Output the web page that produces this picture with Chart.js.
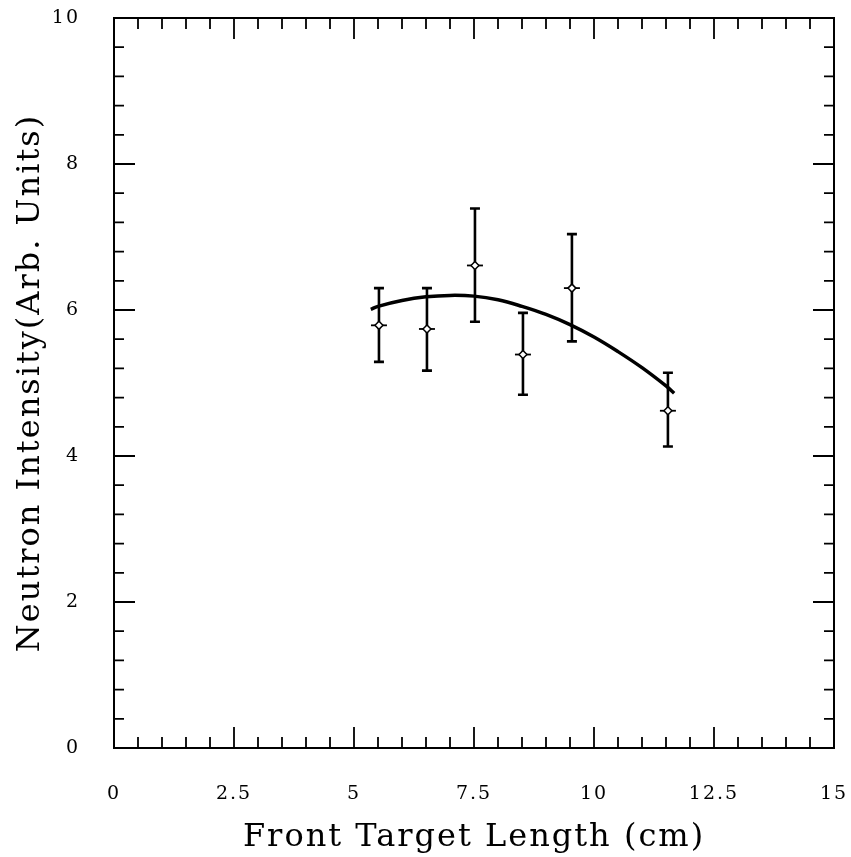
<!DOCTYPE html>
<html>
<head>
<meta charset="utf-8">
<script src="https://cdn.jsdelivr.net/npm/chart.js@4.4.1/dist/chart.umd.min.js"></script>
<style>
  html, body { margin: 0; padding: 0; background: #fff; }
  #wrap { width: 851px; height: 857px; }
</style>
</head>
<body>
<div id="wrap"><canvas id="neutronChart" width="851" height="857"></canvas></div>
<script>
// measured points with error bars
const targetLength = [5.52, 6.52, 7.52, 8.52, 9.54, 11.54];
const intensity = [5.79, 5.74, 6.61, 5.39, 6.30, 4.62];
const errLow = [5.29, 5.17, 5.84, 4.84, 5.57, 4.13];
const errHigh = [6.30, 6.30, 7.39, 5.96, 7.04, 5.14];

// fitted curve
const fitX = [5.35, 5.5, 6.0, 6.5, 7.0, 7.5, 8.0, 8.5, 9.0, 9.5, 10.0, 10.5, 11.0, 11.5, 11.67];
const fitY = [6.01, 6.05, 6.13, 6.18, 6.20, 6.19, 6.14, 6.05, 5.94, 5.80, 5.63, 5.43, 5.21, 4.96, 4.86];

const xTickLabels = ['0', '2.5', '5', '7.5', '10', '12.5', '15'];
const yTickLabels = ['0', '2', '4', '6', '8', '10'];

const serif = "'DejaVu Serif', 'Liberation Serif', serif";

// the original uses widely spaced lettering
const spacingPlugin = {
    id: 'spacing',
    beforeUpdate(chart) { chart.ctx.letterSpacing = '2px'; },
    beforeDraw(chart) { chart.ctx.letterSpacing = '2px'; }
};

// frame + inward ticks on all four sides, error bars
const framePlugin = {
    id: 'frame',
    afterDatasetsDraw(chart) {
        const ctx = chart.ctx;
        const a = chart.chartArea;
        const xs = chart.scales.x;
        const ys = chart.scales.y;
        ctx.save();
        ctx.strokeStyle = '#000';
        ctx.lineWidth = 2;
        ctx.strokeRect(a.left, a.top, a.right - a.left, a.bottom - a.top);

        ctx.lineWidth = 1.8;
        ctx.beginPath();
        xs.ticks.forEach(t => {
            const px = xs.getPixelForValue(t.value);
            if (px <= a.left + 1 || px >= a.right - 1) return;
            const major = Math.abs(t.value / 2.5 - Math.round(t.value / 2.5)) < 1e-6;
            const len = major ? 21 : 11;
            ctx.moveTo(px, a.bottom); ctx.lineTo(px, a.bottom - len);
            ctx.moveTo(px, a.top); ctx.lineTo(px, a.top + len);
        });
        ys.ticks.forEach(t => {
            const py = ys.getPixelForValue(t.value);
            if (py <= a.top + 1 || py >= a.bottom - 1) return;
            const major = Math.abs(t.value / 2 - Math.round(t.value / 2)) < 1e-6;
            const len = major ? 21 : 10;
            ctx.moveTo(a.left, py); ctx.lineTo(a.left + len, py);
            ctx.moveTo(a.right, py); ctx.lineTo(a.right - len, py);
        });
        ctx.stroke();

        // error bars and markers
        targetLength.forEach((x, i) => {
            const px = xs.getPixelForValue(x);
            const pyL = ys.getPixelForValue(errLow[i]);
            const pyH = ys.getPixelForValue(errHigh[i]);
            const py = ys.getPixelForValue(intensity[i]);
            ctx.lineWidth = 2.6;
            ctx.beginPath();
            ctx.moveTo(px, pyL); ctx.lineTo(px, pyH);
            ctx.moveTo(px - 5, pyL); ctx.lineTo(px + 5, pyL);
            ctx.moveTo(px - 5, pyH); ctx.lineTo(px + 5, pyH);
            ctx.stroke();
            ctx.lineWidth = 1.8;
            ctx.beginPath();
            ctx.moveTo(px - 8, py); ctx.lineTo(px + 8, py);
            ctx.stroke();
            ctx.beginPath();
            ctx.fillStyle = '#fff';
            ctx.moveTo(px, py - 4); ctx.lineTo(px + 4, py); ctx.lineTo(px, py + 4); ctx.lineTo(px - 4, py); ctx.closePath();
            ctx.fill();
            ctx.lineWidth = 1.5;
            ctx.stroke();
        });
        ctx.restore();
    }
};

const ctx = document.getElementById('neutronChart').getContext('2d');
new Chart(ctx, {
    type: 'scatter',
    data: {
        datasets: [{
            label: 'fit',
            data: fitX.map((x, i) => ({ x: x, y: fitY[i] })),
            showLine: true,
            borderColor: '#000',
            borderWidth: 3.5,
            pointRadius: 0,
            tension: 0.4,
            fill: false
        }, {
            label: 'data',
            data: targetLength.map((x, i) => ({ x: x, y: intensity[i] })),
            showLine: false,
            pointRadius: 0
        }]
    },
    options: {
        responsive: false,
        animation: false,
        layout: { padding: { top: 18, right: 17, left: 11, bottom: 0 } },
        plugins: {
            legend: { display: false },
            tooltip: { enabled: false }
        },
        scales: {
            x: {
                type: 'linear',
                min: 0,
                max: 15,
                grid: { display: false, drawTicks: false },
                border: { display: false },
                afterFit: s => { s.height = 109; s.paddingLeft = 0; s.paddingRight = 0; },
                ticks: {
                    stepSize: 0.5,
                    autoSkip: false,
                    maxRotation: 0,
                    padding: 35,
                    color: '#000',
                    font: { family: serif, size: 19 },
                    callback: v => {
                        const k = v / 2.5;
                        if (Math.abs(k - Math.round(k)) > 1e-6) return '';
                        return xTickLabels[Math.round(k)];
                    }
                },
                title: {
                    display: true,
                    text: 'Front Target Length (cm)',
                    color: '#000',
                    font: { family: serif, size: 32 },
                    padding: 0
                }
            },
            y: {
                type: 'linear',
                min: 0,
                max: 10,
                grid: { display: false, drawTicks: false },
                border: { display: false },
                afterFit: s => { s.width = 103; s.paddingTop = 0; s.paddingBottom = 0; },
                ticks: {
                    stepSize: 0.4,
                    autoSkip: false,
                    padding: 34,
                    color: '#000',
                    font: { family: serif, size: 19 },
                    callback: v => {
                        const k = v / 2;
                        if (Math.abs(k - Math.round(k)) > 1e-6) return '';
                        return yTickLabels[Math.round(k)];
                    }
                },
                title: {
                    display: true,
                    text: 'Neutron Intensity(Arb. Units)',
                    color: '#000',
                    font: { family: serif, size: 32 },
                    padding: 0
                }
            }
        }
    },
    plugins: [spacingPlugin, framePlugin]
});
</script>
</body>
</html>
